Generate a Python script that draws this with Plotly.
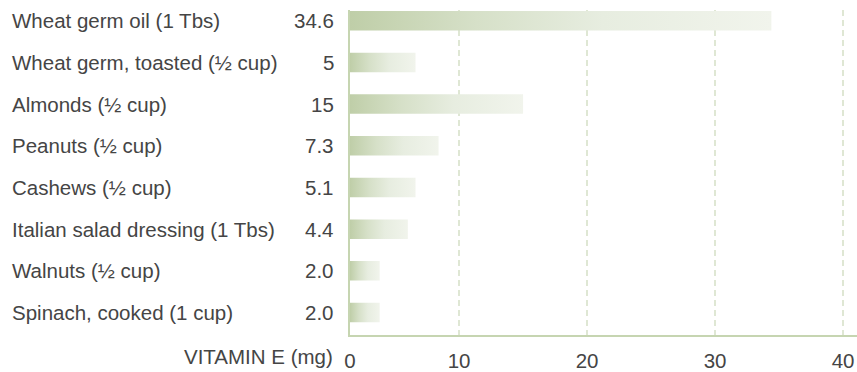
import plotly.graph_objects as go

# ---- data ----
foods = [
    "Wheat germ oil (1 Tbs)",
    "Wheat germ, toasted (½ cup)",
    "Almonds (½ cup)",
    "Peanuts (½ cup)",
    "Cashews (½ cup)",
    "Italian salad dressing (1 Tbs)",
    "Walnuts (½ cup)",
    "Spinach, cooked (1 cup)",
]
value_labels = ["34.6", "5", "15", "7.3", "5.1", "4.4", "2.0", "2.0"]
bar_lengths = [34.4, 6.6, 15.0, 8.4, 6.6, 6.0, 3.8, 3.8]  # drawn bar lengths (mg)
tick_values = [10, 20, 30, 40]
axis_title = "VITAMIN E (mg)"

# ---- style ----
FONT = "Liberation Sans"
FS = 20.5
TXT = "#454545"
AXIS_GREEN = "#c6d5b1"
GRID_GREEN = "#dfe7d4"
GRAD = [[0, "#bfcea8"], [0.3, "#d6e0c8"], [0.6, "#e7ede0"], [1, "#f1f4ec"]]
X_MIN, X_MAX = 1.48, 41.09
Y_TOP, Y_BOT = -0.258, 7.54
HALF = 0.234

fig = go.Figure()
for i, L in enumerate(bar_lengths):
    fig.add_trace(go.Scatter(
        x=[0, L, L, 0, 0],
        y=[i - HALF, i - HALF, i + HALF, i + HALF, i - HALF],
        mode="lines", fill="toself",
        line=dict(width=0),
        fillgradient=dict(type="horizontal", colorscale=GRAD, start=X_MIN, stop=L),
        hoverinfo="skip", showlegend=False,
    ))

annotations = []
for i, (name, val) in enumerate(zip(foods, value_labels)):
    annotations.append(dict(
        text=name, xref="paper", x=0, xanchor="left", xshift=-340,
        yref="y", y=i, yanchor="middle", showarrow=False,
        font=dict(family=FONT, size=FS, color=TXT)))
    annotations.append(dict(
        text=val, xref="paper", x=0, xanchor="right", xshift=-14,
        yref="y", y=i, yanchor="middle", showarrow=False,
        font=dict(family=FONT, size=FS, color=TXT)))
annotations.append(dict(
    text=axis_title, xref="paper", x=0, xanchor="right", xshift=-15,
    yref="paper", y=0, yanchor="middle", yshift=-21, showarrow=False,
    font=dict(family=FONT, size=FS, color=TXT)))

fig.update_layout(
    width=857, height=372,
    margin=dict(l=350, r=0, t=10, b=29),
    paper_bgcolor="white", plot_bgcolor="white",
    annotations=annotations,
    xaxis=dict(
        range=[X_MIN, X_MAX],
        tickvals=[X_MIN] + tick_values,
        ticktext=["0"] + [str(v) for v in tick_values],
        showgrid=True, gridcolor=GRID_GREEN, gridwidth=2, griddash="6px,4px",
        zeroline=False,
        showline=True, linecolor=AXIS_GREEN, linewidth=2,
        ticks="", ticklabelstandoff=6,
        tickfont=dict(family=FONT, size=FS, color=TXT),
        fixedrange=True,
    ),
    yaxis=dict(
        range=[Y_BOT, Y_TOP],
        showgrid=False, zeroline=False, showticklabels=False,
        showline=True, linecolor=AXIS_GREEN, linewidth=2,
        ticks="", fixedrange=True,
    ),
)

fig.write_html("out.html")
